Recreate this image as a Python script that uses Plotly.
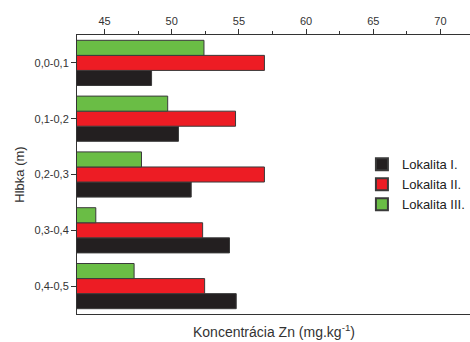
import plotly.graph_objects as go

categories = ["0,0-0,1", "0,1-0,2", "0,2-0,3", "0,3-0,4", "0,4-0,5"]
lok1 = [48.5, 50.5, 51.45, 54.3, 54.8]
lok2 = [56.9, 54.75, 56.9, 52.3, 52.45]
lok3 = [52.4, 49.7, 47.75, 44.35, 47.2]
series_names = ["Lokalita I.", "Lokalita II.", "Lokalita III."]
colors = ["#231f20", "#ed1c24", "#6abd45"]

fig = go.Figure()
for name, vals, col in zip(series_names, [lok1, lok2, lok3], colors):
    fig.add_trace(go.Bar(
        y=categories, x=vals, name=name, orientation="h",
        marker=dict(color=col, line=dict(color="#3a3a3a", width=1)),
        base=0,
    ))

fig.update_layout(
    width=470, height=342,
    margin=dict(l=77, r=0, t=35, b=28),
    paper_bgcolor="white", plot_bgcolor="white",
    barmode="group", bargap=0.19, bargroupgap=0,
    font=dict(family="Liberation Sans, Arial, sans-serif", size=11, color="#333333"),
    showlegend=True,
    legend=dict(x=0.725, y=0.59, xanchor="left", yanchor="top",
                font=dict(size=13, color="#222222"), tracegroupgap=0,
                bgcolor="rgba(0,0,0,0)", itemsizing="constant"),
    xaxis=dict(side="top", range=[42.95, 72.2], tickvals=[45, 50, 55, 60, 65, 70],
               ticks="outside", ticklen=5, tickcolor="#333", showline=True,
               linecolor="#333", linewidth=1, mirror=True, showgrid=False, zeroline=False,
               minor=dict(dtick=2.5, tick0=0, ticks="outside", ticklen=3, tickcolor="#333"),
               tickfont=dict(size=11, color="#333")),
    yaxis=dict(categoryorder="array", categoryarray=categories[::-1],
               ticks="outside", ticklen=5, tickcolor="#333", showline=True,
               linecolor="#333", linewidth=1, showgrid=False,
               title=dict(text="Hlbka (m)", font=dict(size=13, color="#333"), standoff=6),
               tickfont=dict(size=11, color="#333")),
)
fig.add_annotation(text="Koncentrácia Zn (mg.kg<sup>-1</sup>)", x=0.5, y=-0.022,
                   xref="paper", yref="paper", xanchor="center", yanchor="top",
                   showarrow=False, font=dict(size=14, color="#333"))
fig.write_html("out.html")
